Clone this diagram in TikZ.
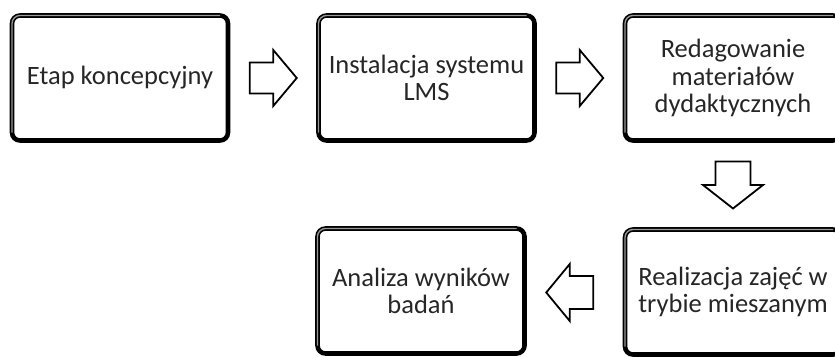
\documentclass[tikz,border=0pt]{standalone}
\usepackage{fontspec}
\setmainfont{Carlito}
\usetikzlibrary{calc}

\tikzset{
  stage/.style={draw=black, line width=4.6pt, rounded corners=8pt, outer sep=0pt,
    minimum width=216pt, minimum height=125pt, align=center, inner sep=2pt,
    text=black!85, font=\fontsize{26.5pt}{27.5pt}\selectfont},
  rim/.style={draw=black!40, line width=1.3pt, rounded corners=8pt},
  blockarrow/.style={draw=black, fill=white, line width=1.8pt, line join=miter},
  % hollow block arrow pointing along +x; centred on the placement point
  pics/barrow/.style args={#1/#2}{code={
    \draw[blockarrow] (-23.5,-#1) -- (0,-#1) -- (0,-#2) -- (23.5,0)
      -- (0,#2) -- (0,#1) -- (-23.5,#1) -- cycle;
  }}
}

\begin{document}
\begin{tikzpicture}[x=1pt,y=-1pt]
\useasboundingbox (0,0) rectangle (835,356);
\clip (0,0) rectangle (835,356);

\node[stage] (b1) at (120,78) {Etap koncepcyjny};
\node[stage] (b2) at (426.5,78) {Instalacja systemu\\LMS};
\node[stage] (b3) at (733,78) {Redagowanie\\materiałów\\dydaktycznych};
\node[stage] (b5) at (733,292) {Realizacja zajęć w\\trybie mieszanym};
\node[stage, minimum width=207pt] (b4) at (421,291) {Analiza wyników\\badań};

% lighter inner rim on the top and left sides of each frame
\foreach \n in {b1,b2,b3,b4,b5}
  \draw[rim] ([yshift=8pt]\n.south west) -- (\n.north west) -- ([xshift=-8pt]\n.north east);

% hollow arrows between the stages
\coordinate (a12) at ($(b1.east)!0.5!(b2.west)$);
\coordinate (a23) at ($(b2.east)!0.5!(b3.west)$);
\coordinate (a35) at ($(b3.south)!0.5!(b5.north)$);
\coordinate (a54) at ($(b5.west)!0.5!(b4.east)+(-5,1)$);
\pic at (a12) {barrow={15.5/28}};
\pic at (a23) {barrow={15.5/28}};
\pic[rotate=-90] at (a35) {barrow={17.5/30}};
\pic[rotate=180] at (a54) {barrow={16.5/28.5}};
\end{tikzpicture}
\end{document}
